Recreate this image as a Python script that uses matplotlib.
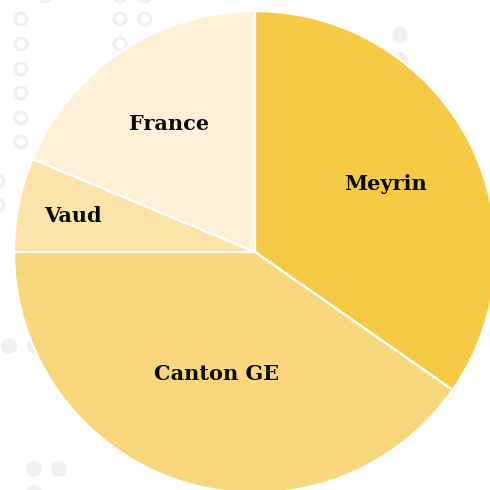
import numpy as np
import matplotlib.pyplot as plt
from matplotlib.patches import Circle

labels = ['Meyrin', 'Canton GE', 'Vaud', 'France']
values = [34.7, 40.3, 6.3, 18.7]
colors = ['#F5CB45', '#F9D77C', '#FBE3AA', '#FEF1D7']
label_r = [0.61, 0.53, 0.77, 0.64]

# decorative background dots (pixel positions)
rings = [(21, 19), (21, 44), (21, 69), (21, 93), (21, 118), (21, 142),
         (120, 19), (145, 19), (120, 44), (45, -4), (120, -4), (145, -4),
         (-2, 181), (-2, 205)]
dots = [(400, 35), (400, 60), (9, 346), (35, 346), (34, 469), (59, 469), (34, 493)]

fig = plt.figure(figsize=(4.9, 4.9), dpi=100)

bg = fig.add_axes([0, 0, 1, 1])
bg.set_xlim(0, 490)
bg.set_ylim(490, 0)
bg.axis('off')
for x, y in rings:
    bg.add_patch(Circle((x, y), 6, facecolor='none', edgecolor='#EFEFEF', lw=2.2))
for x, y in dots:
    bg.add_patch(Circle((x, y), 8, facecolor='#F0F0F0', edgecolor='none'))

ax = fig.add_axes([0, 0, 1, 1])
ax.patch.set_alpha(0)
wedges, _ = ax.pie(values, colors=colors, startangle=90, counterclock=False,
                   radius=1, wedgeprops=dict(edgecolor='white', linewidth=1.6))
for w, lab, r in zip(wedges, labels, label_r):
    a = np.deg2rad((w.theta1 + w.theta2) / 2)
    ax.text(r * np.cos(a), r * np.sin(a), lab, ha='center', va='center',
            fontsize=15, fontweight='heavy', family='DejaVu Serif', color='#0A0A0A')

ax.set_xlim(-255 / 241, 235 / 241)
ax.set_ylim(-238 / 241, 252 / 241)
ax.set_aspect('equal')
ax.axis('off')

fig.savefig('out.png', dpi=100)
